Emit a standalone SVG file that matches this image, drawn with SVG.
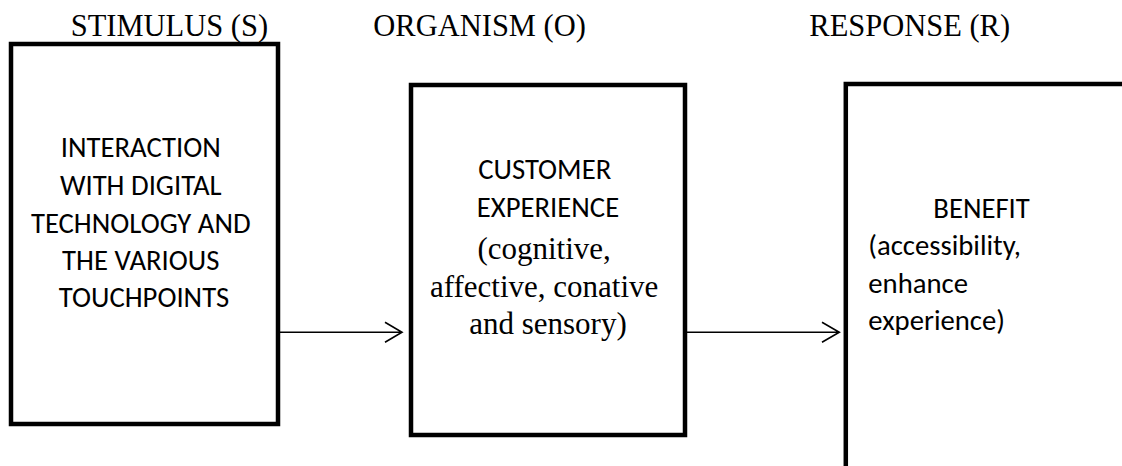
<svg xmlns="http://www.w3.org/2000/svg" width="1122" height="466" viewBox="0 0 1122 466">
<style>
.title{font-family:"Liberation Serif","Times New Roman",serif;font-size:30.5px;fill:#000}
.sans{font-family:Carlito,Lato,"Liberation Sans",sans-serif;font-size:28.7px;fill:#000}
.serif{font-family:"Liberation Serif","Times New Roman",serif;font-size:31px;fill:#000}
.box{fill:#fff;stroke:#000;stroke-width:4.5}
.conn{fill:none;stroke:#000;stroke-width:1.6}
</style>
<rect width="1122" height="466" fill="#fff"/>
<g id="titles">
<text class="title" x="70.7" y="36">STIMULUS (S)</text>
<text class="title" x="373.3" y="36">ORGANISM (O)</text>
<text class="title" x="809.3" y="36">RESPONSE (R)</text>
</g>
<g id="node-stimulus">
<rect class="box" x="11" y="44" width="267" height="380"/>
<text class="sans" text-anchor="middle">
<tspan x="144" y="157.3">INTERACTION</tspan>
<tspan x="144" y="195">WITH DIGITAL</tspan>
<tspan x="144" y="232.7">TECHNOLOGY AND</tspan>
<tspan x="144" y="270">THE VARIOUS</tspan>
<tspan x="144" y="307.3">TOUCHPOINTS</tspan>
</text>
</g>
<g id="node-organism">
<rect class="box" x="411" y="85" width="274" height="350"/>
<text class="sans" text-anchor="middle">
<tspan x="548" y="179.3">CUSTOMER</tspan>
<tspan x="548" y="217.3">EXPERIENCE</tspan>
</text>
<text class="serif" text-anchor="middle">
<tspan x="548" y="259.3">(cognitive,</tspan>
<tspan x="548" y="296.7">affective, conative</tspan>
<tspan x="548" y="334">and sensory)</tspan>
</text>
</g>
<g id="node-response">
<path class="box" d="M845.8,470 V84 H1126"/>
<text class="sans">
<tspan x="933.3" y="217.7">BENEFIT</tspan>
<tspan x="868.3" y="255.3">(accessibility,</tspan>
<tspan x="868.3" y="292.7">enhance</tspan>
<tspan x="868.3" y="330.3">experience)</tspan>
</text>
</g>
<g id="connectors">
<path class="conn" d="M280,332.3 H402 M385,322.3 L402,332.3 L385,342.3"/>
<path class="conn" d="M687,332.3 H839.3 M822,322.3 L839.3,332.3 L822,342.3"/>
</g>
</svg>
